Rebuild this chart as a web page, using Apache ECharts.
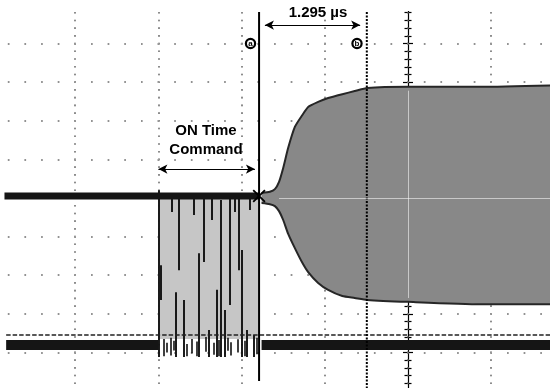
<!DOCTYPE html>
<html>
<head>
<meta charset="utf-8">
<script src="https://cdn.jsdelivr.net/npm/echarts@6/dist/echarts.min.js"></script>
<style>
  html, body { margin: 0; padding: 0; background: #fff; }
  #chart { width: 550px; height: 388px; }
</style>
</head>
<body>
<div id="chart"></div>
<script>
// x in µs (1 µs/div), y in divisions, screen centre = 0
const xMin = -5, xMax = 2;
const yMin = -6, yMax = 6;

// cursors
const cursorA = -1.79;
const cursorB = -0.495;
const deltaLabel = '1.295 µs';
const onTimeLabel = ['ON Time', 'Command'];

// channel 1 (top trace) before the output starts
const trace1Start = -4.85;
const trace1Level = 0.05;

// channel 2 (bottom trace, command burst)
const trace2Start = -4.83;
const trace2Level = -3.81;
const refLevel = -3.55;
const burstStart = -3.0;
const burstEnd = -1.79;
const burstLow = -3.65;

// black transitions inside the burst
const edgeX      = [-3.0, -2.97, -2.84, -2.79, -2.75, -2.70, -2.58, -2.51, -2.46, -2.39, -2.36, -2.30, -2.25, -2.20, -2.14, -2.08, -2.03, -2.00, -1.94, -1.90, -1.85];
const edgeTop    = [0.2, -1.74, 0.03, -2.44, 0.03, -2.64, 0.03, -1.43, 0.03, -3.42, 0.03, -2.38, -0.05, -2.9, 0.03, 0.03, 0.03, -1.35, -3.42, 0.03, -3.55];
const edgeBottom = [-4.12, -2.64, -0.36, -4.12, -1.87, -4.12, -0.44, -4.12, -1.66, -4.12, -0.57, -4.12, -4.12, -4.12, -2.77, -0.36, -1.87, -4.12, -4.12, -0.31, -4.12];

// short spikes on the low level of the burst
const spikeX      = [-2.94, -2.90, -2.85, -2.81, -2.66, -2.60, -2.54, -2.43, -2.34, -2.27, -2.17, -2.13, -2.05, -1.96, -1.82];
const spikeTop    = [-3.65, -3.75, -3.62, -3.7, -3.78, -3.65, -3.72, -3.6, -3.75, -3.68, -3.62, -3.74, -3.66, -3.7, -3.62];
const spikeBottom = [-4.1, -4.0, -4.08, -3.95, -4.1, -4.02, -4.1, -3.98, -4.06, -4.1, -3.96, -4.08, -4.0, -4.1, -4.05];

// output envelope
const envX      = [-1.76, -1.66, -1.60, -1.55, -1.50, -1.44, -1.36, -1.27, -1.20, -1.08, -0.96, -0.79, -0.64, -0.49, 0, 0.87, 2.0];
const envTop    = [0.13, 0.16, 0.23, 0.42, 0.78, 1.30, 1.84, 2.15, 2.36, 2.49, 2.59, 2.69, 2.77, 2.85, 2.88, 2.88, 2.93];
const envBottom = [-0.13, -0.16, -0.21, -0.34, -0.57, -0.93, -1.30, -1.68, -1.92, -2.20, -2.38, -2.54, -2.59, -2.64, -2.69, -2.75, -2.75];

const chart = echarts.init(document.getElementById('chart'), null, { renderer: 'canvas' });

const dotsX = { color: '#3a3a3a', width: 1.6, type: [1.6, 6.12], dashOffset: 0.8 };
const dotsY = { color: '#3a3a3a', width: 1.6, type: [1.6, 15.04], dashOffset: 0.8 };
const ghostX = Object.assign({}, dotsX, { color: 'rgba(255,255,255,0.35)' });
const ghostY = Object.assign({}, dotsY, { color: 'rgba(255,255,255,0.35)' });

function baseAxis(extra) {
  return Object.assign({
    type: 'value',
    axisLabel: { show: false },
    axisLine: { show: false },
    axisTick: { show: false },
    splitLine: { show: false }
  }, extra);
}

const centreTick = { show: true, length: 5, lineStyle: { color: '#000', width: 1.2 } };
const centreMinor = { show: true, splitNumber: 5, length: 3.5, lineStyle: { color: '#000', width: 1.2 } };

const line = (x, y) => x.map((v, i) => [v, y[i]]);

const option = {
  animation: false,
  backgroundColor: '#fff',
  grid: { left: -8, right: -24.4, top: -33.6, bottom: -41.6, containLabel: false, outerBoundsMode: 'none' },
  xAxis: [
    baseAxis({ min: xMin, max: xMax, interval: 1, splitLine: { show: true, lineStyle: dotsX } }),
    baseAxis({ min: xMin, max: xMax, interval: 1, z: 3, splitLine: { show: true, lineStyle: ghostX } })
  ],
  yAxis: [
    baseAxis({
      min: yMin, max: yMax, interval: 1, position: 'left',
      splitLine: { show: true, lineStyle: dotsY },
      axisLine: { show: true, onZero: true, onZeroAxisIndex: 0, lineStyle: { color: '#000', width: 1.2 } },
      axisTick: Object.assign({ inside: true }, centreTick),
      minorTick: centreMinor
    }),
    baseAxis({
      min: yMin, max: yMax, interval: 1, position: 'left',
      axisLine: { show: false, onZero: true, onZeroAxisIndex: 0 },
      axisTick: Object.assign({ inside: false }, centreTick),
      minorTick: centreMinor
    }),
    baseAxis({ min: yMin, max: yMax, interval: 1, position: 'right', z: 3, splitLine: { show: true, lineStyle: ghostY } })
  ],
  series: [
    {
      name: 'burst', type: 'line', symbol: 'none', silent: true,
      data: [[burstStart, burstLow], [burstEnd, burstLow]],
      lineStyle: { width: 0 },
      areaStyle: { color: '#c6c6c6', opacity: 1 }
    },
    {
      name: 'envTop', type: 'line', symbol: 'none', silent: true, smooth: 0.2,
      data: line(envX, envTop),
      lineStyle: { color: '#262626', width: 2 },
      areaStyle: { color: '#888', opacity: 1 }
    },
    {
      name: 'envBottom', type: 'line', symbol: 'none', silent: true, smooth: 0.2,
      data: line(envX, envBottom),
      lineStyle: { color: '#262626', width: 2 },
      areaStyle: { color: '#888', opacity: 1 },
      markLine: {
        silent: true, symbol: 'none', label: { show: false },
        lineStyle: { color: 'rgba(255,255,255,0.55)', width: 1, type: 'solid' },
        data: [
          [{ coord: [0, envTop[14] - 0.1] }, { coord: [0, envBottom[14] + 0.1] }],
          [{ coord: [envX[3], 0] }, { coord: [xMax, 0] }]
        ]
      }
    },
    {
      name: 'edges', type: 'lines', coordinateSystem: 'cartesian2d', silent: true, z: 3,
      lineStyle: { color: '#111', width: 1.9, opacity: 1 },
      data: edgeX.map((x, i) => ({ coords: [[x, edgeTop[i]], [x, edgeBottom[i]]] }))
    },
    {
      name: 'spikes', type: 'lines', coordinateSystem: 'cartesian2d', silent: true, z: 3,
      lineStyle: { color: '#111', width: 1.6, opacity: 1 },
      data: spikeX.map((x, i) => ({ coords: [[x, spikeTop[i]], [x, spikeBottom[i]]] }))
    },
    {
      name: 'ref', type: 'line', symbol: 'none', silent: true,
      data: [[trace2Start, refLevel], [xMax, refLevel]],
      lineStyle: { color: '#222', width: 1.5, type: [4.5, 2] },
      markLine: {
        silent: true, symbol: ['arrow', 'arrow'], symbolSize: [7, 9], label: { show: false },
        lineStyle: { color: '#000', width: 1.2, type: 'solid' },
        data: [
          [{ coord: [cursorA + 0.07, 4.48] }, { coord: [cursorB - 0.08, 4.48] }],
          [{ coord: [burstStart, 0.75] }, { coord: [cursorA - 0.05, 0.75] }]
        ]
      }
    },
    {
      name: 'ch1', type: 'line', symbol: 'none', silent: true, z: 4,
      data: [[trace1Start, trace1Level], [cursorA, trace1Level]],
      lineStyle: { color: '#151515', width: 7 },
      markPoint: {
        silent: true, symbol: 'path://M0 1L1 0L5 4L9 0L10 1L6 5L10 9L9 10L5 6L1 10L0 9L4 5Z',
        symbolSize: 13, itemStyle: { color: '#000' }, label: { show: false },
        data: [{ coord: [cursorA, trace1Level] }]
      }
    },
    {
      name: 'ch2a', type: 'line', symbol: 'none', silent: true, z: 4,
      data: [[trace2Start, trace2Level], [burstStart, trace2Level]],
      lineStyle: { color: '#151515', width: 10 }
    },
    {
      name: 'ch2b', type: 'line', symbol: 'none', silent: true, z: 4,
      data: [[burstEnd + 0.03, trace2Level], [xMax, trace2Level]],
      lineStyle: { color: '#151515', width: 10 }
    },
    {
      name: 'cursorA', type: 'line', symbol: 'none', silent: true, z: 4,
      data: [[cursorA, 4.82], [cursorA, -4.74]],
      lineStyle: { color: '#000', width: 2 }
    },
    {
      name: 'cursorB', type: 'line', symbol: 'none', silent: true, z: 4,
      data: [[cursorB, 4.82], [cursorB, -5.2]],
      lineStyle: { color: '#000', width: 2, type: [2, 1.5] }
    }
  ],
  graphic: [
    { type: 'rect', z: 100, silent: true, shape: { x: 0, y: 0, width: 550, height: 11 }, style: { fill: '#fff' } },
    { type: 'text', z: 101, x: 318, y: 13, silent: true,
      style: { text: deltaLabel, font: 'bold 15px "Liberation Sans", Arial, sans-serif', fill: '#000', align: 'center', verticalAlign: 'middle' } },
    { type: 'text', z: 101, x: 206, y: 131, silent: true,
      style: { text: onTimeLabel[0], font: 'bold 15px "Liberation Sans", Arial, sans-serif', fill: '#000', align: 'center', verticalAlign: 'middle' } },
    { type: 'text', z: 101, x: 206, y: 150, silent: true,
      style: { text: onTimeLabel[1], font: 'bold 15px "Liberation Sans", Arial, sans-serif', fill: '#000', align: 'center', verticalAlign: 'middle' } },
    { type: 'circle', z: 101, silent: true, shape: { cx: 250.5, cy: 43.5, r: 4.6 }, style: { fill: '#fff', stroke: '#000', lineWidth: 2.2 } },
    { type: 'text', z: 102, x: 250.5, y: 43.8, silent: true,
      style: { text: 'a', font: 'bold 8px "Liberation Sans", Arial, sans-serif', fill: '#000', align: 'center', verticalAlign: 'middle' } },
    { type: 'circle', z: 101, silent: true, shape: { cx: 357, cy: 43.5, r: 4.6 }, style: { fill: '#fff', stroke: '#000', lineWidth: 2.2 } },
    { type: 'text', z: 102, x: 357, y: 43.8, silent: true,
      style: { text: 'b', font: 'bold 8px "Liberation Sans", Arial, sans-serif', fill: '#000', align: 'center', verticalAlign: 'middle' } }
  ]
};

chart.setOption(option);
</script>
</body>
</html>
